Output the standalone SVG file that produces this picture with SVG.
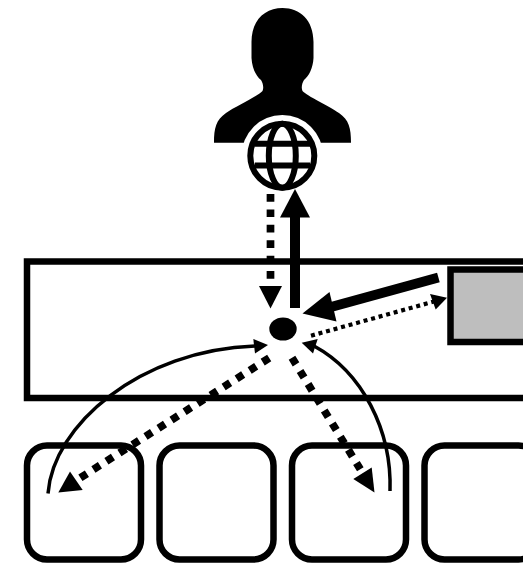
<svg xmlns="http://www.w3.org/2000/svg" width="523" height="563" viewBox="0 0 523 563">
<style>
.box{fill:#fff;stroke:#000;stroke-width:6.500}
.big{fill:none;stroke:#000;stroke-width:6.500}
.thick{fill:none;stroke:#000;stroke-width:10}
.d8{fill:none;stroke:#000;stroke-width:7.700;stroke-dasharray:7.700 7.720}
.d4{fill:none;stroke:#000;stroke-width:4.200;stroke-dasharray:4 3.800}
.curve{fill:none;stroke:#000;stroke-width:3.500}
.head{fill:#000}
.globe{fill:none;stroke:#000;stroke-width:6}
</style>
<rect width="523" height="563" fill="#fff"/>
<g id="person">
<path d="M282.500 8C265 8 251.500 20 251.500 42L251.500 58C252 68 256 76 261 80C263 83 264 88 262.500 91C258 96 236 106 226 113C216 120 214 128 214 142.700L351 142.700C351 128 349 120 339 113C329 106 307 96 302.500 91C301 88 302 83 304 80C309 76 313 68 313.500 58L313.500 42C313.500 20 300 8 282.500 8Z" fill="#000"/>
<circle cx="282.300" cy="155.700" r="40.700" fill="#fff"/>
</g>
<g id="globe">
<circle class="globe" cx="282.300" cy="155.700" r="32"/>
<ellipse class="globe" cx="282.300" cy="155.700" rx="13.500" ry="32"/>
<path class="globe" d="M255 143.700H310M255 165.500H310"/>
</g>
<g id="platform"><rect class="big" x="27" y="261.500" width="520" height="136.500"/></g>
<g id="side-box"><rect x="450.500" y="269.500" width="100" height="72.500" fill="#bebebe" stroke="#000" stroke-width="6.500"/></g>
<g id="tile-1"><rect class="box" x="27" y="445.500" width="114" height="114" rx="20"/></g>
<g id="tile-2"><rect class="box" x="159.500" y="445.500" width="114" height="114" rx="20"/></g>
<g id="tile-3"><rect class="box" x="292" y="445.500" width="114" height="114" rx="20"/></g>
<g id="tile-4"><rect class="box" x="424.500" y="445.500" width="114" height="114" rx="20"/></g>
<g id="hub"><ellipse cx="283" cy="329" rx="13.700" ry="11.500" fill="#000"/></g>
<g id="connectors">
<path class="thick" d="M295 308V216"/>
<polygon class="head" points="295,189 310,217.500 280,217.500"/>
<path class="d8" d="M270.500 194V280"/>
<polygon class="head" points="270.500,308.500 259,286 282,286"/>
<path class="thick" d="M438.400 277.500L331 307"/>
<polygon class="head" points="302.500,313.500 329.500,292 336.500,321.500"/>
<path class="d4" d="M311 335.700L434 301.500"/>
<polygon class="head" points="447,297.700 430,294 435.700,309.500"/>
<path class="curve" d="M48 493.500C53 425 140 350 255 346"/>
<polygon class="head" points="268,345 253.300,339 255,353.500"/>
<path class="curve" d="M390 491C392 430 362 372 314 346"/>
<polygon class="head" points="301.700,342.700 317.700,339 313,353.500"/>
<path class="d8" d="M269.200 358L80 478"/>
<polygon class="head" points="58.300,492.500 70,471.500 82.700,490"/>
<path class="d8" d="M292 357.800L360.300 469.300"/>
<polygon class="head" points="374.500,492.500 353.300,479 371.700,467.500"/>
</g>
</svg>
